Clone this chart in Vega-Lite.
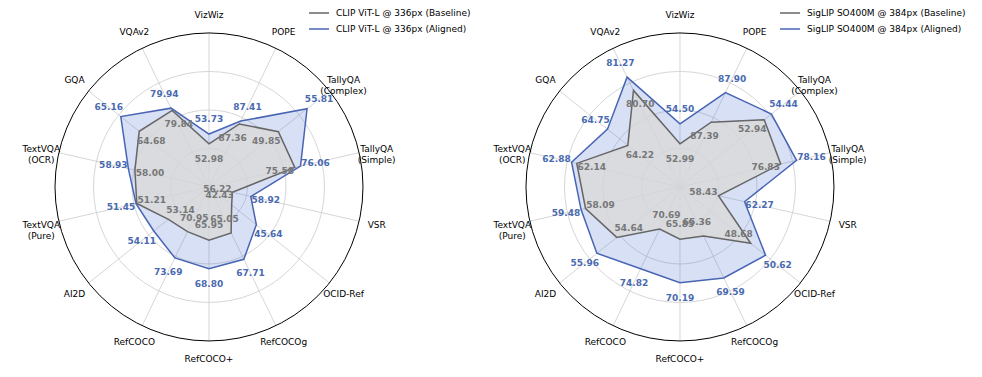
{
"$schema":"https://vega.github.io/schema/vega-lite/v6.json",
"padding":0,
"spacing":0,
"bounds":"flush",
"config":{"view":{"stroke":null},"text":{"font":"DejaVu Sans"},"legend":{"labelFont":"DejaVu Sans","labelFontSize":9,"labelColor":"#000000"}},
"resolve":{"scale":{"color":"independent"}},
"datasets":{
"axes":[
{"b":"VizWiz","lbl":"VizWiz","i":0,"lo":49.71,"hi":61.41},
{"b":"POPE","lbl":"POPE","i":1,"lo":86.28,"hi":88.66},
{"b":"TallyQA (Complex)","lbl":"TallyQA\n(Complex)","i":2,"lo":35.45,"hi":60.45},
{"b":"TallyQA (Simple)","lbl":"TallyQA\n(Simple)","i":3,"lo":68.40,"hi":80.97},
{"b":"VSR","lbl":"VSR","i":4,"lo":52.79,"hi":74.82},
{"b":"OCID-Ref","lbl":"OCID-Ref","i":5,"lo":39.48,"hi":55.15},
{"b":"RefCOCOg","lbl":"RefCOCOg","i":6,"lo":60.42,"hi":74.41},
{"b":"RefCOCO+","lbl":"RefCOCO+","i":7,"lo":60.62,"hi":76.02},
{"b":"RefCOCO","lbl":"RefCOCO","i":8,"lo":66.30,"hi":80.76},
{"b":"AI2D","lbl":"AI2D","i":9,"lo":50.45,"hi":58.43},
{"b":"TextVQA (Pure)","lbl":"TextVQA\n(Pure)","i":10,"lo":28.85,"hi":75.35},
{"b":"TextVQA (OCR)","lbl":"TextVQA\n(OCR)","i":11,"lo":47.46,"hi":68.82},
{"b":"GQA","lbl":"GQA","i":12,"lo":62.86,"hi":66.00},
{"b":"VQAv2","lbl":"VQAv2","i":13,"lo":76.56,"hi":82.51}
],
"rings":[{"g":0.25},{"g":0.5},{"g":0.75}],
"outer":[{"g":1}],
"scores":[
{"p":"CLIP","k":"Aligned","m":"CLIP ViT-L @ 336px (Aligned)","b":"VizWiz","v":53.73},
{"p":"CLIP","k":"Aligned","m":"CLIP ViT-L @ 336px (Aligned)","b":"POPE","v":87.41},
{"p":"CLIP","k":"Aligned","m":"CLIP ViT-L @ 336px (Aligned)","b":"TallyQA (Complex)","v":55.81},
{"p":"CLIP","k":"Aligned","m":"CLIP ViT-L @ 336px (Aligned)","b":"TallyQA (Simple)","v":76.06},
{"p":"CLIP","k":"Aligned","m":"CLIP ViT-L @ 336px (Aligned)","b":"VSR","v":58.92},
{"p":"CLIP","k":"Aligned","m":"CLIP ViT-L @ 336px (Aligned)","b":"OCID-Ref","v":45.64},
{"p":"CLIP","k":"Aligned","m":"CLIP ViT-L @ 336px (Aligned)","b":"RefCOCOg","v":67.71},
{"p":"CLIP","k":"Aligned","m":"CLIP ViT-L @ 336px (Aligned)","b":"RefCOCO+","v":68.80},
{"p":"CLIP","k":"Aligned","m":"CLIP ViT-L @ 336px (Aligned)","b":"RefCOCO","v":73.69},
{"p":"CLIP","k":"Aligned","m":"CLIP ViT-L @ 336px (Aligned)","b":"AI2D","v":54.11},
{"p":"CLIP","k":"Aligned","m":"CLIP ViT-L @ 336px (Aligned)","b":"TextVQA (Pure)","v":51.45},
{"p":"CLIP","k":"Aligned","m":"CLIP ViT-L @ 336px (Aligned)","b":"TextVQA (OCR)","v":58.93},
{"p":"CLIP","k":"Aligned","m":"CLIP ViT-L @ 336px (Aligned)","b":"GQA","v":65.16},
{"p":"CLIP","k":"Aligned","m":"CLIP ViT-L @ 336px (Aligned)","b":"VQAv2","v":79.94},
{"p":"CLIP","k":"Baseline","m":"CLIP ViT-L @ 336px (Baseline)","b":"VizWiz","v":52.98},
{"p":"CLIP","k":"Baseline","m":"CLIP ViT-L @ 336px (Baseline)","b":"POPE","v":87.36},
{"p":"CLIP","k":"Baseline","m":"CLIP ViT-L @ 336px (Baseline)","b":"TallyQA (Complex)","v":49.85},
{"p":"CLIP","k":"Baseline","m":"CLIP ViT-L @ 336px (Baseline)","b":"TallyQA (Simple)","v":75.58},
{"p":"CLIP","k":"Baseline","m":"CLIP ViT-L @ 336px (Baseline)","b":"VSR","v":56.22},
{"p":"CLIP","k":"Baseline","m":"CLIP ViT-L @ 336px (Baseline)","b":"OCID-Ref","v":42.43},
{"p":"CLIP","k":"Baseline","m":"CLIP ViT-L @ 336px (Baseline)","b":"RefCOCOg","v":65.05},
{"p":"CLIP","k":"Baseline","m":"CLIP ViT-L @ 336px (Baseline)","b":"RefCOCO+","v":65.95},
{"p":"CLIP","k":"Baseline","m":"CLIP ViT-L @ 336px (Baseline)","b":"RefCOCO","v":70.95},
{"p":"CLIP","k":"Baseline","m":"CLIP ViT-L @ 336px (Baseline)","b":"AI2D","v":53.14},
{"p":"CLIP","k":"Baseline","m":"CLIP ViT-L @ 336px (Baseline)","b":"TextVQA (Pure)","v":51.21},
{"p":"CLIP","k":"Baseline","m":"CLIP ViT-L @ 336px (Baseline)","b":"TextVQA (OCR)","v":58.00},
{"p":"CLIP","k":"Baseline","m":"CLIP ViT-L @ 336px (Baseline)","b":"GQA","v":64.68},
{"p":"CLIP","k":"Baseline","m":"CLIP ViT-L @ 336px (Baseline)","b":"VQAv2","v":79.84},
{"p":"SigLIP","k":"Aligned","m":"SigLIP SO400M @ 384px (Aligned)","b":"VizWiz","v":54.50},
{"p":"SigLIP","k":"Aligned","m":"SigLIP SO400M @ 384px (Aligned)","b":"POPE","v":87.90},
{"p":"SigLIP","k":"Aligned","m":"SigLIP SO400M @ 384px (Aligned)","b":"TallyQA (Complex)","v":54.44},
{"p":"SigLIP","k":"Aligned","m":"SigLIP SO400M @ 384px (Aligned)","b":"TallyQA (Simple)","v":78.16},
{"p":"SigLIP","k":"Aligned","m":"SigLIP SO400M @ 384px (Aligned)","b":"VSR","v":62.27},
{"p":"SigLIP","k":"Aligned","m":"SigLIP SO400M @ 384px (Aligned)","b":"OCID-Ref","v":50.62},
{"p":"SigLIP","k":"Aligned","m":"SigLIP SO400M @ 384px (Aligned)","b":"RefCOCOg","v":69.59},
{"p":"SigLIP","k":"Aligned","m":"SigLIP SO400M @ 384px (Aligned)","b":"RefCOCO+","v":70.19},
{"p":"SigLIP","k":"Aligned","m":"SigLIP SO400M @ 384px (Aligned)","b":"RefCOCO","v":74.82},
{"p":"SigLIP","k":"Aligned","m":"SigLIP SO400M @ 384px (Aligned)","b":"AI2D","v":55.96},
{"p":"SigLIP","k":"Aligned","m":"SigLIP SO400M @ 384px (Aligned)","b":"TextVQA (Pure)","v":59.48},
{"p":"SigLIP","k":"Aligned","m":"SigLIP SO400M @ 384px (Aligned)","b":"TextVQA (OCR)","v":62.88},
{"p":"SigLIP","k":"Aligned","m":"SigLIP SO400M @ 384px (Aligned)","b":"GQA","v":64.75},
{"p":"SigLIP","k":"Aligned","m":"SigLIP SO400M @ 384px (Aligned)","b":"VQAv2","v":81.27},
{"p":"SigLIP","k":"Baseline","m":"SigLIP SO400M @ 384px (Baseline)","b":"VizWiz","v":52.99},
{"p":"SigLIP","k":"Baseline","m":"SigLIP SO400M @ 384px (Baseline)","b":"POPE","v":87.39},
{"p":"SigLIP","k":"Baseline","m":"SigLIP SO400M @ 384px (Baseline)","b":"TallyQA (Complex)","v":52.94},
{"p":"SigLIP","k":"Baseline","m":"SigLIP SO400M @ 384px (Baseline)","b":"TallyQA (Simple)","v":76.83},
{"p":"SigLIP","k":"Baseline","m":"SigLIP SO400M @ 384px (Baseline)","b":"VSR","v":58.43},
{"p":"SigLIP","k":"Baseline","m":"SigLIP SO400M @ 384px (Baseline)","b":"OCID-Ref","v":48.68},
{"p":"SigLIP","k":"Baseline","m":"SigLIP SO400M @ 384px (Baseline)","b":"RefCOCOg","v":65.36},
{"p":"SigLIP","k":"Baseline","m":"SigLIP SO400M @ 384px (Baseline)","b":"RefCOCO+","v":65.85},
{"p":"SigLIP","k":"Baseline","m":"SigLIP SO400M @ 384px (Baseline)","b":"RefCOCO","v":70.69},
{"p":"SigLIP","k":"Baseline","m":"SigLIP SO400M @ 384px (Baseline)","b":"AI2D","v":54.64},
{"p":"SigLIP","k":"Baseline","m":"SigLIP SO400M @ 384px (Baseline)","b":"TextVQA (Pure)","v":58.09},
{"p":"SigLIP","k":"Baseline","m":"SigLIP SO400M @ 384px (Baseline)","b":"TextVQA (OCR)","v":62.14},
{"p":"SigLIP","k":"Baseline","m":"SigLIP SO400M @ 384px (Baseline)","b":"GQA","v":64.22},
{"p":"SigLIP","k":"Baseline","m":"SigLIP SO400M @ 384px (Baseline)","b":"VQAv2","v":80.70}
]
},
"hconcat":[
{"width":491,"height":377,
 "layer":[
  {"data":{"name":"axes"},
   "transform":[{"calculate":"datum.i*2*PI/14","as":"t"},{"calculate":"0","as":"z"},{"calculate":"sin(datum.t)","as":"sx"},{"calculate":"cos(datum.t)","as":"sy"}],
   "mark":{"type":"rule","color":"#cccccc","strokeWidth":0.8},
   "encoding":{"x":{"field":"z","type":"quantitative","scale":{"domain":[-1.357,1.831],"nice":false,"zero":false},"axis":null},
               "y":{"field":"z","type":"quantitative","scale":{"domain":[-1.234,1.214],"nice":false,"zero":false},"axis":null},
               "x2":{"field":"sx"},"y2":{"field":"sy"}}},
  {"data":{"name":"rings"},
   "transform":[{"calculate":"0","as":"z"}],
   "mark":{"type":"point","shape":"circle","filled":false,"color":"#cccccc","strokeWidth":0.8,"opacity":1},
   "encoding":{"x":{"field":"z","type":"quantitative","scale":{"domain":[-1.357,1.831],"nice":false,"zero":false},"axis":null},
               "y":{"field":"z","type":"quantitative","scale":{"domain":[-1.234,1.214],"nice":false,"zero":false},"axis":null},
               "size":{"field":"g","type":"quantitative","scale":{"type":"pow","exponent":2,"domain":[0,1],"range":[0,94864]},"legend":null}}},
  {"data":{"name":"outer"},
   "transform":[{"calculate":"0","as":"z"}],
   "mark":{"type":"point","shape":"circle","filled":false,"color":"#000000","strokeWidth":1,"opacity":1},
   "encoding":{"x":{"field":"z","type":"quantitative","scale":{"domain":[-1.357,1.831],"nice":false,"zero":false},"axis":null},
               "y":{"field":"z","type":"quantitative","scale":{"domain":[-1.234,1.214],"nice":false,"zero":false},"axis":null},
               "size":{"field":"g","type":"quantitative","scale":{"type":"pow","exponent":2,"domain":[0,1],"range":[0,94864]},"legend":null}}},
  {"data":{"name":"axes"},
   "transform":[{"calculate":"datum.i*2*PI/14","as":"t"},{"calculate":"1.117*sin(datum.t)","as":"lx"},{"calculate":"1.117*cos(datum.t)","as":"ly"}],
   "mark":{"type":"text","fontSize":9,"lineBreak":"\n","align":"center","baseline":"middle","color":"#000000"},
   "encoding":{"x":{"field":"lx","type":"quantitative","scale":{"domain":[-1.357,1.831],"nice":false,"zero":false},"axis":null},
               "y":{"field":"ly","type":"quantitative","scale":{"domain":[-1.234,1.214],"nice":false,"zero":false},"axis":null},
               "text":{"field":"lbl","type":"nominal"}}},
  {"data":{"name":"scores"},
   "transform":[{"filter":"datum.p=='CLIP'"},
     {"lookup":"b","from":{"data":{"name":"axes"},"key":"b","fields":["i","lo","hi"]}},
     {"calculate":"datum.i*2*PI/14","as":"t"},
     {"calculate":"(datum.v-datum.lo)/(datum.hi-datum.lo)","as":"rn"},
     {"calculate":"datum.rn*sin(datum.t)","as":"px"},
     {"calculate":"datum.rn*cos(datum.t)","as":"py"},
     {"calculate":"datum.rn+(datum.k=='Aligned'?0.1:-0.1)","as":"rl"},
     {"calculate":"datum.rl*sin(datum.t)","as":"lx"},
     {"calculate":"datum.rl*cos(datum.t)","as":"ly"}],
   "layer":[
    {"transform":[{"filter":"datum.k=='Aligned'"}],
     "mark":{"type":"line","interpolate":"linear-closed","fill":"#4c70d4","fillOpacity":0.22,"strokeOpacity":0},
     "encoding":{"x":{"field":"px","type":"quantitative","scale":{"domain":[-1.357,1.831],"nice":false,"zero":false},"axis":null},
                 "y":{"field":"py","type":"quantitative","scale":{"domain":[-1.234,1.214],"nice":false,"zero":false},"axis":null},
                 "order":{"field":"i","type":"quantitative"}}},
    {"transform":[{"filter":"datum.k=='Baseline'"}],
     "mark":{"type":"line","interpolate":"linear-closed","fill":"#dadada","fillOpacity":0.8,"strokeOpacity":0},
     "encoding":{"x":{"field":"px","type":"quantitative","scale":{"domain":[-1.357,1.831],"nice":false,"zero":false},"axis":null},
                 "y":{"field":"py","type":"quantitative","scale":{"domain":[-1.234,1.214],"nice":false,"zero":false},"axis":null},
                 "order":{"field":"i","type":"quantitative"}}},
    {"mark":{"type":"line","interpolate":"linear-closed","strokeWidth":1.5},
     "encoding":{"x":{"field":"px","type":"quantitative","scale":{"domain":[-1.357,1.831],"nice":false,"zero":false},"axis":null},
                 "y":{"field":"py","type":"quantitative","scale":{"domain":[-1.234,1.214],"nice":false,"zero":false},"axis":null},
                 "order":{"field":"i","type":"quantitative"},
                 "color":{"field":"m","type":"nominal","title":null,
                          "scale":{"domain":["CLIP ViT-L @ 336px (Baseline)","CLIP ViT-L @ 336px (Aligned)"],"range":["#666666","#4865b4"]},
                          "legend":{"orient":"none","legendX":308,"legendY":2,"symbolType":"stroke","symbolSize":400,"symbolStrokeWidth":1.5,"labelFontSize":9,"rowPadding":-4,"labelOffset":6}}}},
    {"transform":[{"filter":"datum.k=='Aligned'"}],
     "mark":{"type":"text","fontSize":9,"fontWeight":"bold","color":"#4a6ab0","align":"center","baseline":"middle"},
     "encoding":{"x":{"field":"lx","type":"quantitative","scale":{"domain":[-1.357,1.831],"nice":false,"zero":false},"axis":null},
                 "y":{"field":"ly","type":"quantitative","scale":{"domain":[-1.234,1.214],"nice":false,"zero":false},"axis":null},
                 "text":{"field":"v","type":"quantitative","format":".2f"}}},
    {"transform":[{"filter":"datum.k=='Baseline'"}],
     "mark":{"type":"text","fontSize":9,"fontWeight":"bold","color":"#777777","align":"center","baseline":"middle"},
     "encoding":{"x":{"field":"lx","type":"quantitative","scale":{"domain":[-1.357,1.831],"nice":false,"zero":false},"axis":null},
                 "y":{"field":"ly","type":"quantitative","scale":{"domain":[-1.234,1.214],"nice":false,"zero":false},"axis":null},
                 "text":{"field":"v","type":"quantitative","format":".2f"}}}
   ]}
 ]},
{"width":491,"height":377,
 "layer":[
  {"data":{"name":"axes"},
   "transform":[{"calculate":"datum.i*2*PI/14","as":"t"},{"calculate":"0","as":"z"},{"calculate":"sin(datum.t)","as":"sx"},{"calculate":"cos(datum.t)","as":"sy"}],
   "mark":{"type":"rule","color":"#cccccc","strokeWidth":0.8},
   "encoding":{"x":{"field":"z","type":"quantitative","scale":{"domain":[-1.227,1.961],"nice":false,"zero":false},"axis":null},
               "y":{"field":"z","type":"quantitative","scale":{"domain":[-1.234,1.214],"nice":false,"zero":false},"axis":null},
               "x2":{"field":"sx"},"y2":{"field":"sy"}}},
  {"data":{"name":"rings"},
   "transform":[{"calculate":"0","as":"z"}],
   "mark":{"type":"point","shape":"circle","filled":false,"color":"#cccccc","strokeWidth":0.8,"opacity":1},
   "encoding":{"x":{"field":"z","type":"quantitative","scale":{"domain":[-1.227,1.961],"nice":false,"zero":false},"axis":null},
               "y":{"field":"z","type":"quantitative","scale":{"domain":[-1.234,1.214],"nice":false,"zero":false},"axis":null},
               "size":{"field":"g","type":"quantitative","scale":{"type":"pow","exponent":2,"domain":[0,1],"range":[0,94864]},"legend":null}}},
  {"data":{"name":"outer"},
   "transform":[{"calculate":"0","as":"z"}],
   "mark":{"type":"point","shape":"circle","filled":false,"color":"#000000","strokeWidth":1,"opacity":1},
   "encoding":{"x":{"field":"z","type":"quantitative","scale":{"domain":[-1.227,1.961],"nice":false,"zero":false},"axis":null},
               "y":{"field":"z","type":"quantitative","scale":{"domain":[-1.234,1.214],"nice":false,"zero":false},"axis":null},
               "size":{"field":"g","type":"quantitative","scale":{"type":"pow","exponent":2,"domain":[0,1],"range":[0,94864]},"legend":null}}},
  {"data":{"name":"axes"},
   "transform":[{"calculate":"datum.i*2*PI/14","as":"t"},{"calculate":"1.117*sin(datum.t)","as":"lx"},{"calculate":"1.117*cos(datum.t)","as":"ly"}],
   "mark":{"type":"text","fontSize":9,"lineBreak":"\n","align":"center","baseline":"middle","color":"#000000"},
   "encoding":{"x":{"field":"lx","type":"quantitative","scale":{"domain":[-1.227,1.961],"nice":false,"zero":false},"axis":null},
               "y":{"field":"ly","type":"quantitative","scale":{"domain":[-1.234,1.214],"nice":false,"zero":false},"axis":null},
               "text":{"field":"lbl","type":"nominal"}}},
  {"data":{"name":"scores"},
   "transform":[{"filter":"datum.p=='SigLIP'"},
     {"lookup":"b","from":{"data":{"name":"axes"},"key":"b","fields":["i","lo","hi"]}},
     {"calculate":"datum.i*2*PI/14","as":"t"},
     {"calculate":"(datum.v-datum.lo)/(datum.hi-datum.lo)","as":"rn"},
     {"calculate":"datum.rn*sin(datum.t)","as":"px"},
     {"calculate":"datum.rn*cos(datum.t)","as":"py"},
     {"calculate":"datum.rn+(datum.k=='Aligned'?0.1:-0.1)","as":"rl"},
     {"calculate":"datum.rl*sin(datum.t)","as":"lx"},
     {"calculate":"datum.rl*cos(datum.t)","as":"ly"}],
   "layer":[
    {"transform":[{"filter":"datum.k=='Aligned'"}],
     "mark":{"type":"line","interpolate":"linear-closed","fill":"#4c70d4","fillOpacity":0.22,"strokeOpacity":0},
     "encoding":{"x":{"field":"px","type":"quantitative","scale":{"domain":[-1.227,1.961],"nice":false,"zero":false},"axis":null},
                 "y":{"field":"py","type":"quantitative","scale":{"domain":[-1.234,1.214],"nice":false,"zero":false},"axis":null},
                 "order":{"field":"i","type":"quantitative"}}},
    {"transform":[{"filter":"datum.k=='Baseline'"}],
     "mark":{"type":"line","interpolate":"linear-closed","fill":"#dadada","fillOpacity":0.8,"strokeOpacity":0},
     "encoding":{"x":{"field":"px","type":"quantitative","scale":{"domain":[-1.227,1.961],"nice":false,"zero":false},"axis":null},
                 "y":{"field":"py","type":"quantitative","scale":{"domain":[-1.234,1.214],"nice":false,"zero":false},"axis":null},
                 "order":{"field":"i","type":"quantitative"}}},
    {"mark":{"type":"line","interpolate":"linear-closed","strokeWidth":1.5},
     "encoding":{"x":{"field":"px","type":"quantitative","scale":{"domain":[-1.227,1.961],"nice":false,"zero":false},"axis":null},
                 "y":{"field":"py","type":"quantitative","scale":{"domain":[-1.234,1.214],"nice":false,"zero":false},"axis":null},
                 "order":{"field":"i","type":"quantitative"},
                 "color":{"field":"m","type":"nominal","title":null,
                          "scale":{"domain":["SigLIP SO400M @ 384px (Baseline)","SigLIP SO400M @ 384px (Aligned)"],"range":["#666666","#4865b4"]},
                          "legend":{"orient":"none","legendX":288,"legendY":2,"symbolType":"stroke","symbolSize":400,"symbolStrokeWidth":1.5,"labelFontSize":9,"rowPadding":-4,"labelOffset":6}}}},
    {"transform":[{"filter":"datum.k=='Aligned'"}],
     "mark":{"type":"text","fontSize":9,"fontWeight":"bold","color":"#4a6ab0","align":"center","baseline":"middle"},
     "encoding":{"x":{"field":"lx","type":"quantitative","scale":{"domain":[-1.227,1.961],"nice":false,"zero":false},"axis":null},
                 "y":{"field":"ly","type":"quantitative","scale":{"domain":[-1.234,1.214],"nice":false,"zero":false},"axis":null},
                 "text":{"field":"v","type":"quantitative","format":".2f"}}},
    {"transform":[{"filter":"datum.k=='Baseline'"}],
     "mark":{"type":"text","fontSize":9,"fontWeight":"bold","color":"#777777","align":"center","baseline":"middle"},
     "encoding":{"x":{"field":"lx","type":"quantitative","scale":{"domain":[-1.227,1.961],"nice":false,"zero":false},"axis":null},
                 "y":{"field":"ly","type":"quantitative","scale":{"domain":[-1.234,1.214],"nice":false,"zero":false},"axis":null},
                 "text":{"field":"v","type":"quantitative","format":".2f"}}}
   ]}
 ]}
]
}
